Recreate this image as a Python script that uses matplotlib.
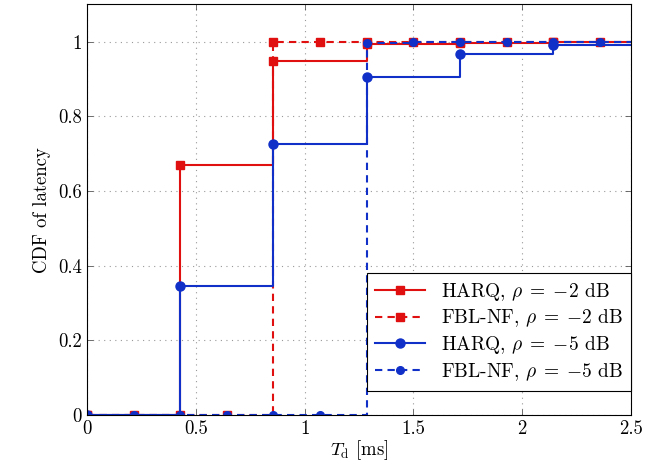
import numpy as np
import matplotlib
matplotlib.use("Agg")
from matplotlib import pyplot as plt

plt.rcParams['font.family'] = ['cmr10', 'DejaVu Serif']
plt.rcParams['mathtext.fontset'] = 'cm'
plt.rcParams['axes.formatter.use_mathtext'] = True

# latency grid (ms)
x_harq = [0, 0.4286, 0.8571, 1.2857, 1.7143, 2.1429, 2.5]
x_fbl = [0, 0.2143, 0.4286, 0.6429, 0.8571, 1.0714, 1.2857, 1.5, 1.7143, 1.9286, 2.1429, 2.3571, 2.5]

harq_m2 = [0, 0.67, 0.947, 0.994, 0.997, 0.999, 0.999]
fbl_m2 = [0, 0, 0, 0, 1.0, 1.0, 1.0, 1.0, 1.0, 1.0, 1.0, 1.0, 1.0]
harq_m5 = [0, 0.345, 0.727, 0.904, 0.967, 0.99, 0.99]
fbl_m5 = [0, 0, 0, 0, 0, 0, 0.997, 0.999, 1.0, 1.0, 1.0, 1.0, 1.0]

labels = [r'HARQ, $\rho\;=\;{-}2$ dB', r'FBL-NF, $\rho\;=\;{-}2$ dB',
          r'HARQ, $\rho\;=\;{-}5$ dB', r'FBL-NF, $\rho\;=\;{-}5$ dB']

red = '#e01010'
blue = '#1030c8'

fig = plt.figure(figsize=(6.63, 4.66), dpi=100)
ax = fig.add_axes([0.131, 0.109, 0.821, 0.882])

ax.step(x_harq, harq_m2, where='post', color=red, lw=1.5, marker='s', ms=6,
        markevery=slice(0, -1), label=labels[0])
ax.step(x_fbl, fbl_m2, where='post', color=red, lw=1.5, ls=(0, (3.5, 2.5)), marker='s', ms=5.5,
        markevery=slice(0, -1), label=labels[1])
ax.step(x_harq, harq_m5, where='post', color=blue, lw=1.5, marker='o', ms=6.5,
        markevery=slice(0, -1), label=labels[2])
ax.step(x_fbl, fbl_m5, where='post', color=blue, lw=1.5, ls=(0, (3.5, 2.5)), marker='o', ms=5.5,
        markevery=slice(0, -1), label=labels[3])

ax.set_xlim(0, 2.5)
ax.set_ylim(0, 1.1)
ax.set_xticks([0, 0.5, 1, 1.5, 2, 2.5])
ax.set_xticklabels(['0', '0.5', '1', '1.5', '2', '2.5'])
ax.set_yticks([0, 0.2, 0.4, 0.6, 0.8, 1])
ax.set_yticklabels(['0', '0.2', '0.4', '0.6', '0.8', '1'])
ax.tick_params(direction='in', top=True, right=True, labelsize=13.5, length=4, width=0.6, color='#555555')
ax.grid(True, ls=(0, (1, 4)), color='#999999', lw=0.8)
ax.set_axisbelow(True)
for s in ax.spines.values():
    s.set_linewidth(0.8)

ax.set_xlabel(r'$T_\mathrm{d}$ [ms]', fontsize=13.5, labelpad=0)
ax.set_ylabel('CDF of latency', fontsize=13.5, labelpad=5)

leg = ax.legend(loc='lower right', bbox_to_anchor=(1.0, 0.06), fontsize=14, fancybox=False,
                framealpha=1, edgecolor='black', handlelength=2.6, borderpad=0.4,
                labelspacing=0.25, handletextpad=0.8, borderaxespad=0)
leg.get_frame().set_linewidth(0.8)

fig.savefig('out.png', dpi=100)
